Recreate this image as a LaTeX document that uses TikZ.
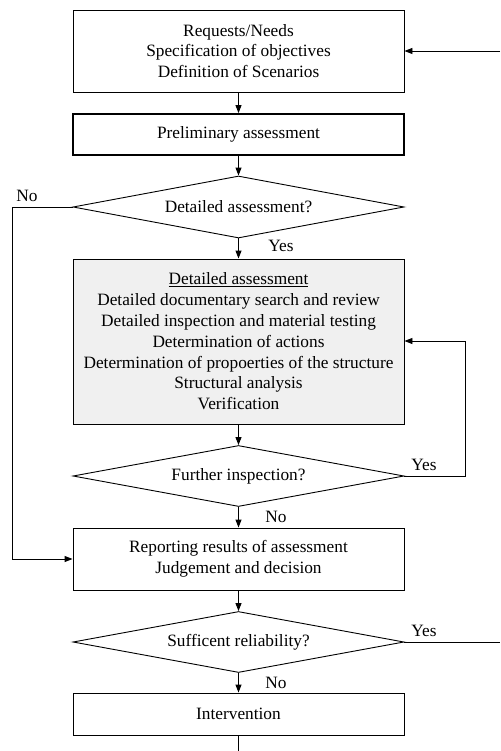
\documentclass[tikz,border=0pt]{standalone}
\usepackage{fontspec}
\setmainfont{Liberation Serif}
\usetikzlibrary{shapes.geometric,arrows.meta}
\begin{document}
\begin{tikzpicture}[x=1pt,y=-1pt,
  every node/.style={font=\fontsize{17.3}{20.8}\selectfont},
  box/.style={draw, line width=0.9pt, rectangle, minimum width=331pt, align=center, inner sep=0pt},
  dia/.style={draw, line width=0.9pt, diamond, minimum width=331pt, inner sep=0pt, aspect=5.3},
  lbl/.style={inner sep=0pt},
  conn/.style={line width=0.9pt},
  arr/.style={conn, -{Triangle[length=8pt,width=6pt]}}
]
\useasboundingbox (0,0) rectangle (500,751);
\node[box, minimum height=82pt] (b1) at (238.5,51) {Requests/Needs\\Specification of objectives\\Definition of Scenarios};
\node[box, minimum height=41pt, line width=1.8pt] (b2) at (238.5,134.5) {Preliminary assessment};
\node[dia, minimum height=62pt] (d1) at (238.5,207) {Detailed assessment?};
\node[box, minimum height=165pt, fill={rgb,255:red,240;green,240;blue,240}] (b3) at (238.5,341.5) {\underline{Detailed assessment}\\Detailed documentary search and review\\Detailed inspection and material testing\\Determination of actions\\Determination of propoerties of the structure\\Structural analysis\\Verification};
\node[dia, minimum height=61pt] (d2) at (238.5,476) {Further inspection?};
\node[box, minimum height=62pt] (b4) at (238.5,559) {Reporting results of assessment\\Judgement and decision};
\node[dia, minimum height=61pt] (d3) at (238.5,642) {Sufficent reliability?};
\node[box, minimum height=42pt] (b5) at (238.5,714) {Intervention};

\coordinate (rin) at (500,51);
\coordinate (rout) at (500,642);
\coordinate (ll1) at (12,207);
\coordinate (ll2) at (12,559);
\coordinate (rl1) at (465,476);
\coordinate (rl2) at (465,341);
\coordinate (bot) at (238.5,751);

\draw[arr] (b1) -- (b2);
\draw[arr] (b2) -- (d1);
\draw[arr] (d1) -- (b3);
\draw[arr] (b3) -- (d2);
\draw[arr] (d2) -- (b4);
\draw[arr] (b4) -- (d3);
\draw[arr] (d3) -- (b5);
\draw[conn] (b5) -- (bot);
\draw[arr] (d1.west) -- (ll1) -- (ll2) -- (b4.west);
\draw[arr] (d2.east) -- (rl1) -- (rl2) -- (b3.east |- rl2);
\draw[conn] (d3.east) -- (rout);
\draw[arr] (rin) -- (b1.east |- rin);

\node[lbl] (n1) at (27,196) {No};
\node[lbl] (y1) at (281,246) {Yes};
\node[lbl] (y2) at (424,465) {Yes};
\node[lbl] (n2) at (276,517) {No};
\node[lbl] (y3) at (424,631) {Yes};
\node[lbl] (n3) at (276,683) {No};
\end{tikzpicture}
\end{document}
